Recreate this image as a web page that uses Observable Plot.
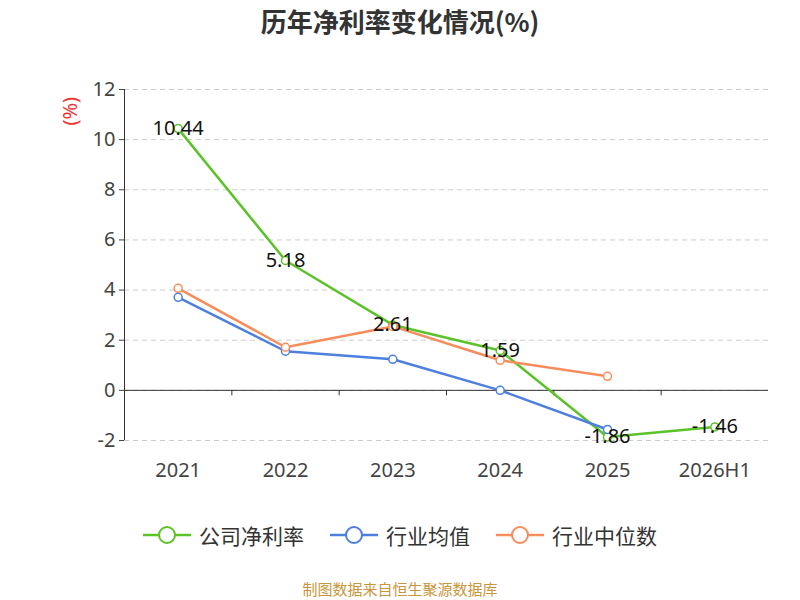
<!DOCTYPE html>
<html><head><meta charset="utf-8">
<script src="https://cdn.jsdelivr.net/npm/d3@7"></script>
<script src="https://cdn.jsdelivr.net/npm/@observablehq/plot@0.6"></script>
<style>
body{margin:0;font-family:"Noto Sans CJK SC","Noto Sans",sans-serif;background:#fff;width:800px;height:600px;position:relative;overflow:hidden}
#title{position:absolute;top:2px;width:800px;text-align:center;font-size:26px;font-weight:bold;color:#333}
#chart{position:absolute;top:60px;left:0}
#legend{position:absolute;top:520px;width:800px;display:flex;justify-content:center;gap:26px;font-size:21px;color:#333}
#legend span{display:flex;align-items:center;gap:8px}
#cap{position:absolute;top:578px;width:800px;text-align:center;font-size:15px;color:#c8963c}
#chart svg text{font-size:20px}
</style></head><body>
<div id="title">历年净利率变化情况(%)</div>
<div id="chart"></div>
<div id="legend"></div>
<div id="cap">制图数据来自恒生聚源数据库</div>
<script>
const categories=["2021","2022","2023","2024","2025","2026H1"];
const company=[10.44,5.18,2.61,1.59,-1.86,-1.46];
const industryAvg=[3.71,1.56,1.24,0.0,-1.56,null];
const industryMedian=[4.07,1.72,2.55,1.2,0.56,null];
const seriesNames=["公司净利率","行业均值","行业中位数"];
const colors=["#5cc22a","#4e7fde","#f78c5c"];
const yTicks=[-2,0,2,4,6,8,10,12];

const rows=[];
[company,industryAvg,industryMedian].forEach((arr,s)=>arr.forEach((v,i)=>{if(v!=null)rows.push({i,v,s:seriesNames[s]})}));
const comp=company.map((v,i)=>({i,v}));
const bounds=[0.5,1.5,2.5,3.5,4.5];
const plot=Plot.plot({
  width:800,height:420,marginLeft:124,marginRight:32,marginTop:29,marginBottom:40,
  style:{fontSize:"20px",fontFamily:"Noto Sans, sans-serif",color:"#444"},
  x:{domain:[-0.5,5.5]},
  y:{domain:[-2,12]},
  color:{domain:seriesNames,range:colors},
  marks:[
    Plot.gridY(yTicks,{stroke:"#ccc",strokeOpacity:1,strokeDasharray:"5,4"}),
    Plot.ruleY([0],{stroke:"#333"}),
    Plot.ruleX(bounds,{y1:0,y2:-0.22,stroke:"#333"}),
    Plot.axisY(yTicks,{tickSize:5,tickFormat:d=>d,label:null}),
    Plot.ruleX([-0.5],{stroke:"#333"}),
    Plot.axisX([0,1,2,3,4,5],{tickSize:0,tickFormat:i=>categories[i],label:null,tickPadding:22}),
    Plot.line(rows,{x:"i",y:"v",z:"s",stroke:"s",strokeWidth:2.5}),
    Plot.dot(rows,{x:"i",y:"v",stroke:"s",fill:"#fff",r:4,strokeWidth:1.5}),
    Plot.text(comp,{x:"i",y:"v",text:d=>d.v.toFixed(2),fill:"#111"}),
    Plot.text(["(%)"],{frameAnchor:"top-left",dx:-62,dy:36,rotate:-90,fill:"#e33"})
  ]
});
document.getElementById("chart").appendChild(plot);
const lg=document.getElementById("legend");
seriesNames.forEach((n,k)=>{
  const s=document.createElement("span");
  s.innerHTML=`<svg width="48" height="20"><line x1="0" y1="10" x2="48" y2="10" stroke="${colors[k]}" stroke-width="2.5"/><circle cx="24" cy="10" r="8" fill="#fff" stroke="${colors[k]}" stroke-width="2"/></svg>${n}`;
  lg.appendChild(s);
});
</script></body></html>
